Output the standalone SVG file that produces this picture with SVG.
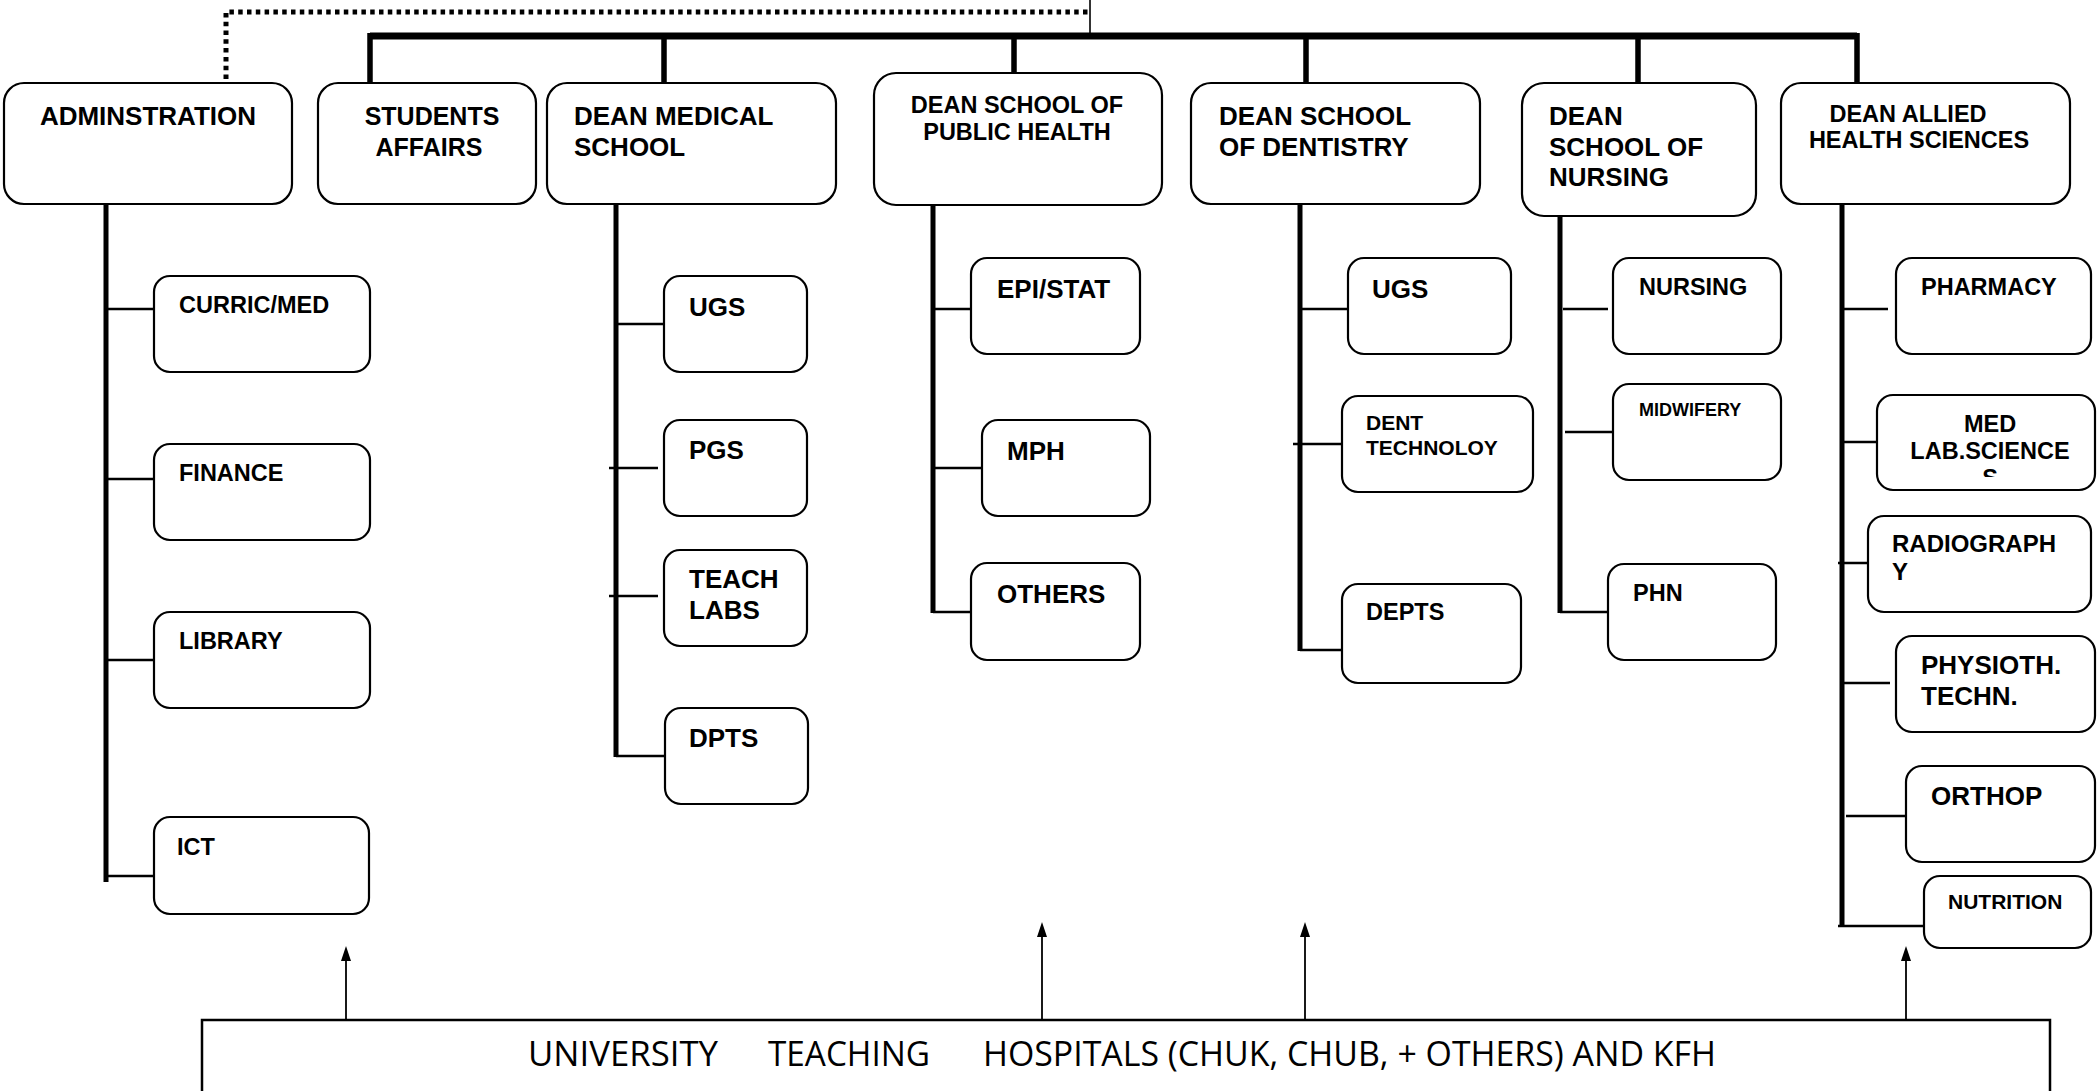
<svg xmlns="http://www.w3.org/2000/svg" width="2097" height="1091" viewBox="0 0 2097 1091">
<style>
.box{fill:#fff;stroke:#000;stroke-width:2.2}
.t{font-family:"Liberation Sans",Arial,sans-serif;font-weight:bold;fill:#000}
.c{text-anchor:middle}
.bus{stroke:#000;stroke-width:7;fill:none}
.drop{stroke:#000;stroke-width:5.5;fill:none}
.col{stroke:#000;stroke-width:5;fill:none}
.conn{stroke:#000;stroke-width:2.5;fill:none}
.dot{stroke:#000;stroke-width:5;fill:none;stroke-dasharray:4.5 4.3}
.arr{stroke:#000;stroke-width:1.8;fill:none;marker-end:url(#ah)}
.bt{font-family:"Open Sans","Noto Sans",sans-serif;font-size:34px;fill:#000}
</style>
<defs>
<marker id="ah" markerUnits="userSpaceOnUse" markerWidth="12" markerHeight="16" refX="6" refY="1" orient="auto-start-reverse" viewBox="0 0 12 16">
<path d="M6,0 L11,15 L1,15 Z" fill="#000" transform="rotate(90 6 8)"/>
</marker>
<clipPath id="medclip"><rect x="1877" y="395" width="219" height="82"/></clipPath>
</defs>
<rect width="2097" height="1091" fill="#fff"/>

<g id="connectors">
<path class="dot" d="M226,79 V12 H1088"/>
<path d="M1090,0 V33" stroke="#000" stroke-width="1.6" fill="none"/>
<path class="bus" d="M370,36 H1857"/>
<path class="drop" d="M370,33 V83 M664,36 V83 M1014,36 V73 M1306,36 V83 M1638,36 V83 M1857,33 V83"/>
<path class="col" d="M106,204 V882 M616,204 V757 M933,205 V613 M1300,204 V651 M1560,216 V613 M1842,204 V927"/>
<path class="conn" d="M106,309 H154 M106,479 H154 M106,660 H154 M106,876 H154"/>
<path class="conn" d="M616,324 H664 M609,468 H658 M609,596 H658 M616,756 H665"/>
<path class="conn" d="M933,309 H971 M933,468 H982 M933,612 H971"/>
<path class="conn" d="M1300,309 H1348 M1293,444 H1342 M1300,650 H1342"/>
<path class="conn" d="M1563,309 H1608 M1565,432 H1613 M1560,612 H1608"/>
<path class="conn" d="M1844,309 H1888 M1844,442 H1877 M1838,563 H1887 M1844,683 H1890 M1846,816 H1906 M1838,926 H1924"/>
<g fill="#000">
<path d="M346,1020 V958" stroke="#000" stroke-width="1.8"/><path d="M346,946 L351,961 L341,961 Z"/>
<path d="M1042,1020 V934" stroke="#000" stroke-width="1.8"/><path d="M1042,922 L1047,937 L1037,937 Z"/>
<path d="M1305,1020 V934" stroke="#000" stroke-width="1.8"/><path d="M1305,922 L1310,937 L1300,937 Z"/>
<path d="M1906,1020 V958" stroke="#000" stroke-width="1.8"/><path d="M1906,946 L1911,961 L1901,961 Z"/>
</g>
</g>

<g id="admin"><rect class="box" x="4" y="83" width="288" height="121" rx="20"/><text class="t c" x="148" y="125" font-size="26">ADMINSTRATION</text></g>
<g id="students"><rect class="box" x="318" y="83" width="218" height="121" rx="20"/><text class="t c" font-size="25"><tspan x="432" y="125">STUDENTS</tspan><tspan x="429" y="156">AFFAIRS</tspan></text></g>
<g id="medical"><rect class="box" x="547" y="83" width="289" height="121" rx="20"/><text class="t" font-size="26"><tspan x="574" y="125">DEAN MEDICAL</tspan><tspan x="574" y="156">SCHOOL</tspan></text></g>
<g id="publichealth"><rect class="box" x="874" y="73" width="288" height="132" rx="22"/><text class="t c" font-size="23.5"><tspan x="1017" y="113">DEAN SCHOOL OF</tspan><tspan x="1017" y="140">PUBLIC HEALTH</tspan></text></g>
<g id="dentistry"><rect class="box" x="1191" y="83" width="289" height="121" rx="20"/><text class="t" font-size="26"><tspan x="1219" y="125">DEAN SCHOOL</tspan><tspan x="1219" y="156">OF DENTISTRY</tspan></text></g>
<g id="nursingschool"><rect class="box" x="1522" y="83" width="234" height="133" rx="22"/><text class="t" font-size="26"><tspan x="1549" y="125">DEAN</tspan><tspan x="1549" y="156">SCHOOL OF</tspan><tspan x="1549" y="186">NURSING</tspan></text></g>
<g id="allied"><rect class="box" x="1781" y="83" width="289" height="121" rx="20"/><text class="t c" font-size="23.5"><tspan x="1908" y="122">DEAN ALLIED</tspan><tspan x="1919" y="148">HEALTH SCIENCES</tspan></text></g>

<g id="curric"><rect class="box" x="154" y="276" width="216" height="96" rx="16"/><text class="t" x="179" y="313" font-size="23.5">CURRIC/MED</text></g>
<g id="finance"><rect class="box" x="154" y="444" width="216" height="96" rx="16"/><text class="t" x="179" y="481" font-size="23.5">FINANCE</text></g>
<g id="library"><rect class="box" x="154" y="612" width="216" height="96" rx="16"/><text class="t" x="179" y="649" font-size="23.5">LIBRARY</text></g>
<g id="ict"><rect class="box" x="154" y="817" width="215" height="97" rx="16"/><text class="t" x="177" y="855" font-size="23.5">ICT</text></g>

<g id="ugs-med"><rect class="box" x="664" y="276" width="143" height="96" rx="16"/><text class="t" x="689" y="316" font-size="26">UGS</text></g>
<g id="pgs"><rect class="box" x="664" y="420" width="143" height="96" rx="16"/><text class="t" x="689" y="459" font-size="26">PGS</text></g>
<g id="teachlabs"><rect class="box" x="664" y="550" width="143" height="96" rx="16"/><text class="t" font-size="26"><tspan x="689" y="588">TEACH</tspan><tspan x="689" y="619">LABS</tspan></text></g>
<g id="dpts"><rect class="box" x="665" y="708" width="143" height="96" rx="16"/><text class="t" x="689" y="747" font-size="26">DPTS</text></g>

<g id="epistat"><rect class="box" x="971" y="258" width="169" height="96" rx="16"/><text class="t" x="997" y="298" font-size="26">EPI/STAT</text></g>
<g id="mph"><rect class="box" x="982" y="420" width="168" height="96" rx="16"/><text class="t" x="1007" y="460" font-size="26">MPH</text></g>
<g id="others"><rect class="box" x="971" y="563" width="169" height="97" rx="16"/><text class="t" x="997" y="603" font-size="26">OTHERS</text></g>

<g id="ugs-dent"><rect class="box" x="1348" y="258" width="163" height="96" rx="16"/><text class="t" x="1372" y="298" font-size="26">UGS</text></g>
<g id="denttech"><rect class="box" x="1342" y="396" width="191" height="96" rx="16"/><text class="t" font-size="21"><tspan x="1366" y="430">DENT</tspan><tspan x="1366" y="455">TECHNOLOY</tspan></text></g>
<g id="depts"><rect class="box" x="1342" y="584" width="179" height="99" rx="16"/><text class="t" x="1366" y="620" font-size="23.5">DEPTS</text></g>

<g id="nursing"><rect class="box" x="1613" y="258" width="168" height="96" rx="16"/><text class="t" x="1639" y="295" font-size="23.5">NURSING</text></g>
<g id="midwifery"><rect class="box" x="1613" y="384" width="168" height="96" rx="16"/><text class="t" x="1639" y="416" font-size="18">MIDWIFERY</text></g>
<g id="phn"><rect class="box" x="1608" y="564" width="168" height="96" rx="16"/><text class="t" x="1633" y="601" font-size="23.5">PHN</text></g>

<g id="pharmacy"><rect class="box" x="1896" y="258" width="195" height="96" rx="16"/><text class="t" x="1921" y="295" font-size="23.5">PHARMACY</text></g>
<g id="medlab"><rect class="box" x="1877" y="395" width="218" height="95" rx="16"/><text class="t c" font-size="23.5" clip-path="url(#medclip)"><tspan x="1990" y="432">MED</tspan><tspan x="1990" y="459">LAB.SCIENCE</tspan><tspan x="1990" y="486">S</tspan></text></g>
<g id="radiography"><rect class="box" x="1868" y="516" width="223" height="96" rx="16"/><text class="t" font-size="24"><tspan x="1892" y="552">RADIOGRAPH</tspan><tspan x="1892" y="580">Y</tspan></text></g>
<g id="physio"><rect class="box" x="1896" y="636" width="199" height="96" rx="16"/><text class="t" font-size="26"><tspan x="1921" y="674">PHYSIOTH.</tspan><tspan x="1921" y="705">TECHN.</tspan></text></g>
<g id="orthop"><rect class="box" x="1906" y="766" width="189" height="96" rx="16"/><text class="t" x="1931" y="805" font-size="26">ORTHOP</text></g>
<g id="nutrition"><rect class="box" x="1924" y="876" width="167" height="72" rx="16"/><text class="t" x="1948" y="909" font-size="21">NUTRITION</text></g>

<g id="hospitals">
<path d="M202,1095 V1020 H2050 V1095" fill="none" stroke="#000" stroke-width="2.5"/>
<text class="bt" x="528" y="1066" textLength="190" lengthAdjust="spacingAndGlyphs">UNIVERSITY</text>
<text class="bt" x="768" y="1066" textLength="162" lengthAdjust="spacingAndGlyphs">TEACHING</text>
<text class="bt" x="983" y="1066" textLength="733" lengthAdjust="spacingAndGlyphs">HOSPITALS (CHUK, CHUB, + OTHERS) AND KFH</text>
</g>
</svg>
